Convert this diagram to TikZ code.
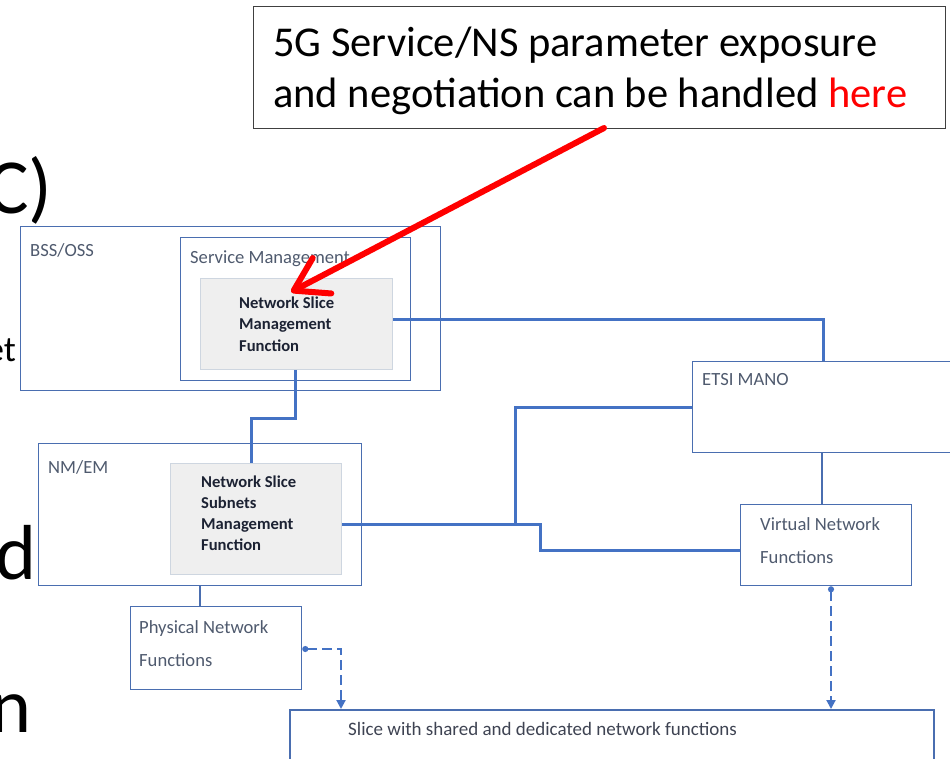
\documentclass[tikz,border=0pt]{standalone}
\usepackage{fontspec}
\setmainfont{Carlito}
\usetikzlibrary{arrows.meta,calc}

\definecolor{boxblue}{HTML}{4A6EB0}
\definecolor{linkblue}{HTML}{4472C4}
\definecolor{labelgray}{HTML}{4F5A6E}
\definecolor{fnfill}{HTML}{EFEFEF}
\definecolor{fnborder}{HTML}{CED6E0}
\definecolor{fntext}{HTML}{1C2233}

\begin{document}
\begin{tikzpicture}[x=1pt,y=-1pt,
  frame/.style={draw=boxblue, line width=1.3pt, anchor=north west, inner sep=0pt},
  fnbox/.style={draw=fnborder, fill=fnfill, line width=1.2pt, anchor=north west, inner sep=0pt},
  % multi-line labels are placed by the baseline of their last line
  lbl/.style={anchor=base west, inner sep=0pt, text=labelgray, align=left,
    font=\fontsize{18.6}{33}\selectfont},
  fnlbl/.style={anchor=base west, inner sep=0pt, text=fntext, align=left,
    font=\bfseries\fontsize{16.6}{21.3}\selectfont},
  bigtext/.style={inner sep=0pt, text=black},
  link/.style={draw=linkblue, line width=3pt},
  thinlink/.style={draw=boxblue, line width=1.3pt},
  dashlink/.style={draw=linkblue, line width=2pt, dash pattern=on 10pt off 5pt,
    {Circle[length=6pt,width=6pt]}-{Triangle[length=9pt,width=9pt]}},
  pointer/.style={draw=red, line width=6pt, line cap=round,
    -{Straight Barb[length=32pt,width=40pt,round]}}
]
\useasboundingbox (0,0) rectangle (950,758);
\clip (0,0) rectangle (950,758);

% large slide text running in from the left edge
\node[bigtext, anchor=base west, font=\fontsize{78}{80}\selectfont] (fragc) at (-13,213) {C)};
\node[bigtext, anchor=base east, font=\fontsize{36}{38}\selectfont] (frage) at (16,361) {et};
\node[bigtext, anchor=base east, font=\fontsize{78}{80}\selectfont] (fragd) at (37,579) {d};
\node[bigtext, anchor=base east, font=\fontsize{78}{80}\selectfont] (fragn) at (32,732) {n};

% callout
\node[draw=black!75, line width=1pt, anchor=north west, inner sep=0pt,
  minimum width=692pt, minimum height=122pt] (note) at (253,6) {};
\node[anchor=base west, inner sep=0pt, align=left,
  font=\fontsize{42.5}{51}\selectfont] (notetext) at (273,107)
  {5G Service/NS parameter exposure\\and negotiation can be handled \textcolor{red}{here}};

% management layers
\node[frame, minimum width=420pt, minimum height=164pt] (bss) at (20,226) {};
\node[lbl] (bsslbl) at (30,256) {BSS/OSS};
\node[frame, minimum width=230pt, minimum height=143pt] (sm) at (180,237) {};
\node[lbl] (smlbl) at (190,263) {Service Management};
\node[fnbox, minimum width=192pt, minimum height=91pt] (nsmf) at (200,278) {};
\node[fnlbl] (nsmflbl) at (239,351) {Network Slice\\Management\\Function};

\node[frame, minimum width=270pt, minimum height=91pt] (mano) at (692,361) {};
\node[lbl] (manolbl) at (702,385) {ETSI MANO};

\node[frame, minimum width=323pt, minimum height=142pt] (nmem) at (38,443) {};
\node[lbl] (nmemlbl) at (48,473) {NM/EM};
\node[fnbox, minimum width=171pt, minimum height=111pt] (nssmf) at (170,463) {};
\node[fnlbl, font=\bfseries\fontsize{16.6}{20.7}\selectfont] (nssmflbl) at (201,550)
  {Network Slice\\Subnets\\Management\\Function};

\node[frame, minimum width=171pt, minimum height=81pt] (vnf) at (740,504) {};
\node[lbl] (vnflbl) at (760,563) {Virtual Network\\Functions};

\node[frame, minimum width=171pt, minimum height=83pt] (pnf) at (130,606) {};
\node[lbl] (pnflbl) at (139,666) {Physical Network\\Functions};

\node[draw=boxblue, line width=1.6pt, anchor=north west, inner sep=0pt,
  minimum width=644pt, minimum height=80pt] (slice) at (289,709) {};
\node[lbl, text=fntext!85, font=\fontsize{19}{22}\selectfont] (slicelbl) at (348,735)
  {Slice with shared and dedicated network functions};

% management connections
\coordinate (split) at (515,524);
\coordinate (jog) at (540,524);
\draw[link] ($(nsmf.north east)+(0,41)$) -| ($(mano.north west)+(131,0)$);
\draw[link] ($(nsmf.south west)+(95,0)$) -- ++(0,48) -| ($(nssmf.north west)+(81,0)$);
\draw[link] ($(nssmf.north east)+(0,61)$) -- (jog) |- ($(vnf.north west)+(0,46)$);
\draw[link] (split) |- ($(mano.north west)+(0,46)$);
\draw[thinlink] ($(mano.south west)+(130,0)$) -- ($(vnf.north west)+(82,0)$);
\draw[thinlink] ($(nmem.south west)+(162,0)$) -- ($(pnf.north west)+(70,0)$);

% network functions feeding the slice
\draw[dashlink] ($(pnf.north east)+(0,43)$) -| ($(slice.north west)+(52,0)$);
\draw[dashlink] ($(vnf.south west)+(91,0)$) -- ($(slice.north west)+(542,0)$);

% callout pointer
\coordinate (pointstart) at (604,128);
\coordinate (pointtip) at (291,292);
\draw[pointer] (pointstart) -- (pointtip);
\end{tikzpicture}
\end{document}
